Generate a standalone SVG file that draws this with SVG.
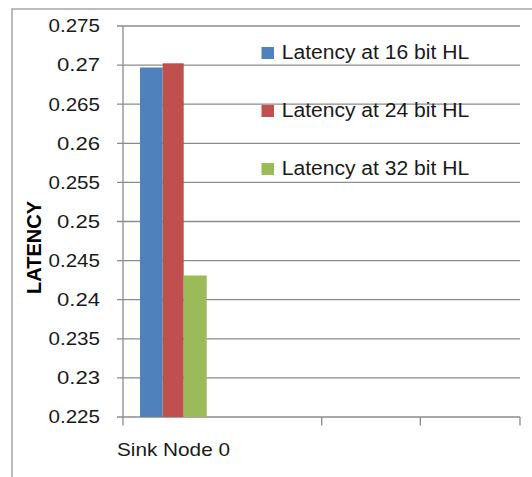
<svg xmlns="http://www.w3.org/2000/svg" width="532" height="477" viewBox="0 0 532 477">
<style>
.grid{stroke:#8c8c8c;stroke-width:1.3;fill:none}
.frame{stroke:#a6a6a6;stroke-width:1.5;fill:none}
.ylab{font-family:"Liberation Sans",Arial,sans-serif;font-size:17.5px;fill:#1a1a1a;text-anchor:end}
.leg{font-family:"Liberation Sans",Arial,sans-serif;font-size:19.5px;fill:#1a1a1a}
.cat{font-family:"Liberation Sans",Arial,sans-serif;font-size:18.5px;fill:#1a1a1a}
.title{font-family:"Liberation Sans",Arial,sans-serif;font-size:20px;font-weight:bold;fill:#000;text-anchor:middle}
</style>
<rect width="532" height="477" fill="#fff"/>
<path class="frame" d="M12,477 V9 H532"/>
<g id="grid">
<path class="grid" d="M117,26H520M117,65.1H520M117,104.2H520M117,143.3H520M117,182.4H520M117,221.5H520M117,260.6H520M117,299.7H520M117,338.8H520M117,377.9H520M117,417H520"/>
<path class="grid" d="M123,26V425.5M321.7,417V425.5M420.3,417V425.5M520,417V425.5"/>
</g>
<g id="ylabels">
<text class="ylab" x="100" y="32.3" textLength="51.5" lengthAdjust="spacingAndGlyphs">0.275</text>
<text class="ylab" x="100" y="71.4" textLength="43" lengthAdjust="spacingAndGlyphs">0.27</text>
<text class="ylab" x="100" y="110.5" textLength="51.5" lengthAdjust="spacingAndGlyphs">0.265</text>
<text class="ylab" x="100" y="149.6" textLength="43" lengthAdjust="spacingAndGlyphs">0.26</text>
<text class="ylab" x="100" y="188.7" textLength="51.5" lengthAdjust="spacingAndGlyphs">0.255</text>
<text class="ylab" x="100" y="227.8" textLength="43" lengthAdjust="spacingAndGlyphs">0.25</text>
<text class="ylab" x="100" y="266.9" textLength="51.5" lengthAdjust="spacingAndGlyphs">0.245</text>
<text class="ylab" x="100" y="306" textLength="43" lengthAdjust="spacingAndGlyphs">0.24</text>
<text class="ylab" x="100" y="345.1" textLength="51.5" lengthAdjust="spacingAndGlyphs">0.235</text>
<text class="ylab" x="100" y="384.2" textLength="43" lengthAdjust="spacingAndGlyphs">0.23</text>
<text class="ylab" x="100" y="423.3" textLength="51.5" lengthAdjust="spacingAndGlyphs">0.225</text>
</g>
<g id="bars">
<rect id="bar16" x="140" y="67.5" width="22.7" height="349.5" fill="#4f81bd"/>
<rect id="bar24" x="162.7" y="63.3" width="21" height="353.7" fill="#c0504d"/>
<rect id="bar32" x="183.7" y="275.5" width="23" height="141.5" fill="#9bbb59"/>
</g>
<g id="axis-title">
<text class="title" transform="translate(41,247.5) rotate(-90)">LATENCY</text>
</g>
<g id="category">
<text class="cat" x="117" y="455.7" textLength="113" lengthAdjust="spacingAndGlyphs">Sink Node 0</text>
</g>
<g id="legend">
<g id="leg16"><rect x="261.5" y="47" width="12.5" height="12" fill="#4f81bd"/><text class="leg" x="281.7" y="59" textLength="187.5" lengthAdjust="spacingAndGlyphs">Latency at 16 bit HL</text></g>
<g id="leg24"><rect x="261.5" y="105" width="12.5" height="12" fill="#c0504d"/><text class="leg" x="281.7" y="117" textLength="187.5" lengthAdjust="spacingAndGlyphs">Latency at 24 bit HL</text></g>
<g id="leg32"><rect x="261.5" y="163" width="12.5" height="12" fill="#9bbb59"/><text class="leg" x="281.7" y="175" textLength="187.5" lengthAdjust="spacingAndGlyphs">Latency at 32 bit HL</text></g>
</g>
</svg>
